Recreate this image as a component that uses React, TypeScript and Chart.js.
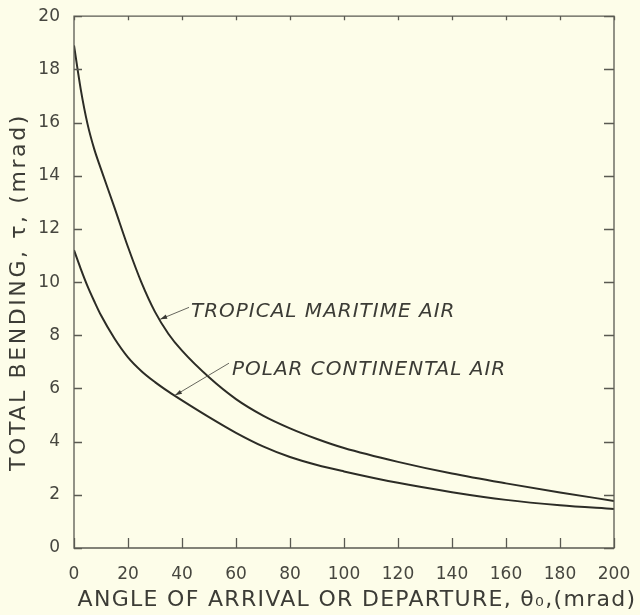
import React, { useEffect, useRef } from "react";
import { Chart, registerables } from "chart.js";

Chart.register(...registerables);

// ---- Data ----
const angles = [0, 2.5, 5, 7.5, 10, 15, 20, 25, 30, 35, 40, 50, 60, 70, 80, 90, 100, 120, 140, 160, 180, 200];
const tropicalMaritime = [18.9, 17.25, 15.95, 15.0, 14.25, 12.8, 11.32, 9.98, 8.88, 8.05, 7.42, 6.42, 5.6, 4.98, 4.5, 4.1, 3.76, 3.24, 2.8, 2.43, 2.09, 1.77];
const polarContinental = [11.2, 10.5, 9.85, 9.28, 8.75, 7.88, 7.17, 6.65, 6.24, 5.88, 5.55, 4.92, 4.33, 3.82, 3.42, 3.12, 2.88, 2.45, 2.1, 1.81, 1.61, 1.47];

const xTitle = "ANGLE OF ARRIVAL OR DEPARTURE, θ₀,(mrad)";
const yTitle = "TOTAL BENDING, τ, (mrad)";

// annotation labels: text, text anchor (data), leader start (data), arrow tip (data)
const labelTexts = ["TROPICAL MARITIME AIR", "POLAR CONTINENTAL AIR"];
const labelAnchorX = [43.3, 58.5];
const labelAnchorY = [8.7, 6.5];
const leaderStartX = [42.6, 57.4];
const leaderStartY = [9.05, 6.95];
const arrowTipX = [31.9, 37.4];
const arrowTipY = [8.6, 5.74];

const INK = "#2c2c26";
const TEXT = "#3c3c36";
const TICK_TEXT = "#46463f";
const FONT = "'DejaVu Sans', sans-serif";

const framePlugin = {
  id: "frameTicks",
  beforeDraw(chart: any) {
    const ctx = chart.ctx;
    ctx.save();
    ctx.fillStyle = "#fdfde9";
    ctx.fillRect(0, 0, chart.width, chart.height);
    ctx.restore();
  },
  afterDraw(chart: any) {
    const { ctx, chartArea, scales } = chart;
    const { left, right, top, bottom } = chartArea;
    const x = scales.x;
    const y = scales.y;
    ctx.save();
    ctx.strokeStyle = "#5a5a52";
    ctx.lineWidth = 1.3;
    ctx.beginPath();
    ctx.rect(left, top, right - left, bottom - top);
    x.ticks.forEach((t: any) => {
      const px = Math.round(x.getPixelForValue(t.value)) + 0.5;
      ctx.moveTo(px, bottom);
      ctx.lineTo(px, bottom - 10);
      ctx.moveTo(px, top);
      ctx.lineTo(px, top + 4);
    });
    y.ticks.forEach((t: any) => {
      const py = Math.round(y.getPixelForValue(t.value)) + 0.5;
      ctx.moveTo(left, py);
      ctx.lineTo(left + 8, py);
      ctx.moveTo(right, py);
      ctx.lineTo(right - 10, py);
    });
    ctx.stroke();

    // axis titles
    ctx.fillStyle = TEXT;
    ctx.textBaseline = "middle";
    ctx.textAlign = "center";
    ctx.font = `22px ${FONT}`;
    (ctx as any).letterSpacing = "1.3px";
    ctx.fillText(xTitle, 357, 600);
    ctx.save();
    ctx.translate(19, 292);
    ctx.rotate(-Math.PI / 2);
    ctx.font = `22px ${FONT}`;
    (ctx as any).letterSpacing = "2.6px";
    ctx.fillText(yTitle, 0, 0);
    ctx.restore();
    (ctx as any).letterSpacing = "0px";
    ctx.restore();
  },
  afterDatasetsDraw(chart: any) {
    const { ctx, scales } = chart;
    const x = scales.x;
    const y = scales.y;
    ctx.save();
    for (let i = 0; i < labelTexts.length; i++) {
      const sx = x.getPixelForValue(leaderStartX[i]);
      const sy = y.getPixelForValue(leaderStartY[i]);
      const tx = x.getPixelForValue(arrowTipX[i]);
      const ty = y.getPixelForValue(arrowTipY[i]);
      ctx.strokeStyle = "#55554d";
      ctx.lineWidth = 0.9;
      ctx.beginPath();
      ctx.moveTo(sx, sy);
      ctx.lineTo(tx, ty);
      ctx.stroke();
      const ang = Math.atan2(ty - sy, tx - sx);
      const L = 7, W = 2.2;
      ctx.fillStyle = "#3a3a34";
      ctx.beginPath();
      ctx.moveTo(tx, ty);
      ctx.lineTo(tx - L * Math.cos(ang) + W * Math.sin(ang), ty - L * Math.sin(ang) - W * Math.cos(ang));
      ctx.lineTo(tx - L * Math.cos(ang) - W * Math.sin(ang), ty - L * Math.sin(ang) + W * Math.cos(ang));
      ctx.closePath();
      ctx.fill();
      ctx.fillStyle = TEXT;
      ctx.font = `italic 20px ${FONT}`;
      (ctx as any).letterSpacing = "1px";
      ctx.textAlign = "left";
      ctx.textBaseline = "alphabetic";
      ctx.fillText(labelTexts[i], x.getPixelForValue(labelAnchorX[i]), y.getPixelForValue(labelAnchorY[i]));
      (ctx as any).letterSpacing = "0px";
    }
    ctx.restore();
  },
};

export default function App() {
  const ref = useRef<HTMLCanvasElement | null>(null);
  useEffect(() => {
    if (!ref.current) return;
    const chart = new Chart(ref.current, {
      type: "line",
      data: {
        datasets: [
          {
            label: "Tropical maritime air",
            data: angles.map((a, i) => ({ x: a, y: tropicalMaritime[i] })),
            borderColor: INK,
            borderWidth: 2,
            pointRadius: 0,
            cubicInterpolationMode: "monotone",
            fill: false,
          },
          {
            label: "Polar continental air",
            data: angles.map((a, i) => ({ x: a, y: polarContinental[i] })),
            borderColor: INK,
            borderWidth: 2,
            pointRadius: 0,
            cubicInterpolationMode: "monotone",
            fill: false,
          },
        ],
      },
      options: {
        responsive: false,
        animation: false,
        layout: { padding: { left: 0, right: 26, top: 15, bottom: 0 } },
        plugins: { legend: { display: false }, tooltip: { enabled: false } },
        scales: {
          x: {
            type: "linear",
            min: 0,
            max: 200,
            grid: { display: false },
            border: { display: false },
            ticks: { stepSize: 20, padding: 8, color: TICK_TEXT, font: { family: FONT, size: 17 }, maxRotation: 0 },
            afterFit(scale: any) {
              scale.height = 67;
            },
          },
          y: {
            type: "linear",
            min: 0,
            max: 20,
            grid: { display: false },
            border: { display: false },
            ticks: { stepSize: 2, padding: 6, color: TICK_TEXT, font: { family: FONT, size: 17 } },
            afterFit(scale: any) {
              scale.width = 74;
            },
          },
        },
      },
      plugins: [framePlugin],
    } as any);
    return () => chart.destroy();
  }, []);
  return (
    <div style={{ position: "absolute", left: 0, top: 0, width: 640, height: 615, background: "#fdfde9" }}>
      <canvas ref={ref} width={640} height={615} style={{ display: "block" }} />
    </div>
  );
}
